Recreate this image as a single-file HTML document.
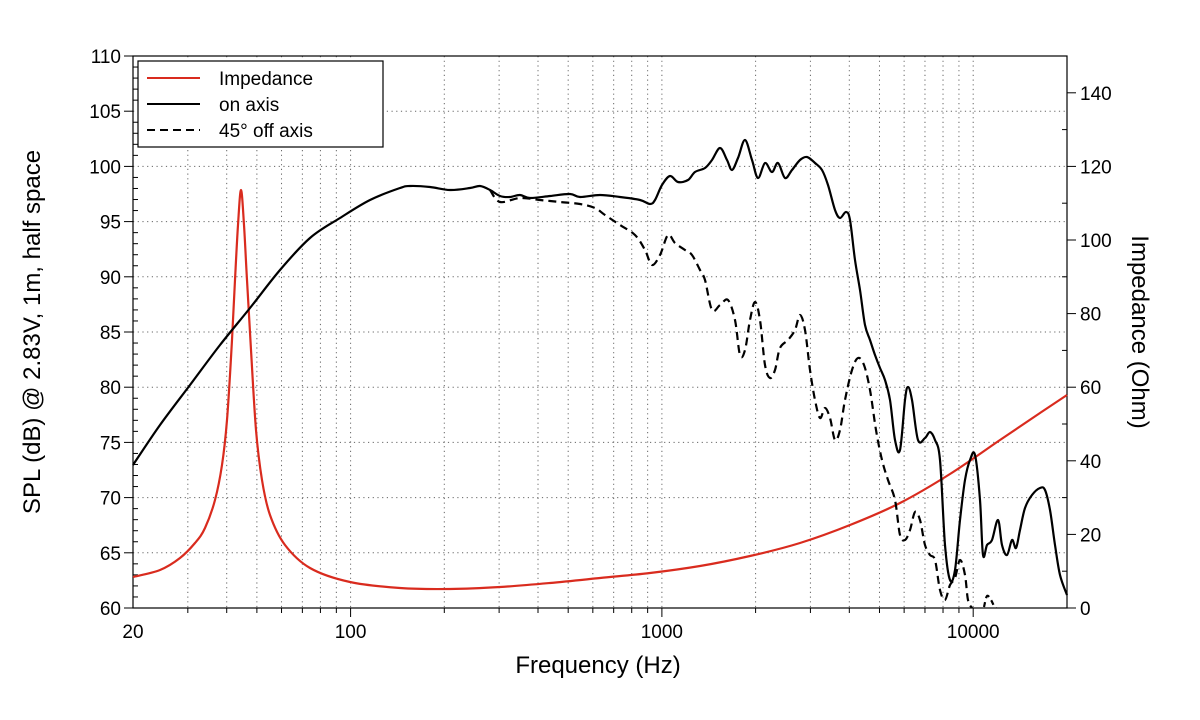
<!DOCTYPE html>
<html><head><meta charset="utf-8"><style>
body{margin:0;background:#fff;}
svg{display:block;font-family:"Liberation Sans",Arial,sans-serif;}
</style></head><body>
<svg id="s" width="1200" height="720" viewBox="0 0 1200 720" xmlns="http://www.w3.org/2000/svg">
<g id="grid"></g>
<rect x="133" y="56" width="934" height="552" fill="none" stroke="#000" stroke-width="1.2"/>
<g id="ticks"></g>
<g id="curves"></g>
<rect x="138" y="61" width="245" height="86" fill="#fff" stroke="#000" stroke-width="1.2"/>
<line x1="147" y1="78" x2="200" y2="78" stroke="#d92b1e" stroke-width="2"/>
<line x1="147" y1="104" x2="200" y2="104" stroke="#000" stroke-width="2"/>
<line x1="147" y1="130" x2="200" y2="130" stroke="#000" stroke-width="2" stroke-dasharray="8,5"/>
<g font-size="19" fill="#000">
<text x="219" y="85">Impedance</text>
<text x="219" y="111">on axis</text>
<text x="219" y="137">45° off axis</text>
</g>
<text x="598" y="673" font-size="24" text-anchor="middle">Frequency (Hz)</text>
<text transform="translate(40,332) rotate(-90)" font-size="24" text-anchor="middle">SPL (dB) @ 2.83V, 1m, half space</text>
<text transform="translate(1132,332) rotate(90)" font-size="24" text-anchor="middle">Impedance (Ohm)</text>
</svg>
<script>
var NS="http://www.w3.org/2000/svg";
function el(p,t,a,txt){var e=document.createElementNS(NS,t);for(var k in a)e.setAttribute(k,a[k]);if(txt!==undefined)e.textContent=txt;document.getElementById(p).appendChild(e);}
function X(f){return 133+311.3*Math.log10(f/20);}
function Y(d){return 608-(d-60)*552/50;}
var fs=[];for(var dec=10;dec<=10000;dec*=10)for(var m=1;m<10;m++){var f=m*dec;if(f>20&&f<20000)fs.push(f);}
fs.forEach(function(f){var x=X(f);var major=(f==100||f==1000||f==10000);
el("grid","line",{x1:x,y1:56,x2:x,y2:608,stroke:"#666","stroke-width":1,"stroke-dasharray":"1.2,3.5"});
el("ticks","line",{x1:x,y1:608,x2:x,y2:major?617:613,stroke:"#000","stroke-width":1});
if(major)el("ticks","text",{x:x,y:638,"font-size":19,"text-anchor":"middle"},String(f));});
el("ticks","text",{x:133,y:638,"font-size":19,"text-anchor":"middle"},"20");
for(var d=65;d<110;d+=5)el("grid","line",{x1:133,y1:Y(d),x2:1067,y2:Y(d),stroke:"#666","stroke-width":1,"stroke-dasharray":"1.2,3.5"});
for(var d=60;d<=110;d++){var y=Y(d);var maj=d%5==0;
el("ticks","line",{x1:maj?124:133,y1:y,x2:maj?133:138,y2:y,stroke:"#000","stroke-width":1});
if(maj)el("ticks","text",{x:121,y:y+7,"font-size":19,"text-anchor":"end"},String(d));}
for(var o=0;o<=150;o+=10){var y=608-o*552/150;var maj=o%20==0&&o<150;
el("ticks","line",{x1:maj?1067:1062,y1:y,x2:maj?1076:1067,y2:y,stroke:"#000","stroke-width":1});
if(maj)el("ticks","text",{x:1080,y:y+7,"font-size":19},String(o));}
function smooth(s){var a=s.trim().split(/\s+/).map(function(p){return p.split(",").map(Number);});
var d="M"+a[0][0]+","+a[0][1];
for(var i=0;i<a.length-1;i++){var p0=a[i-1]||a[i],p1=a[i],p2=a[i+1],p3=a[i+2]||p2;
var c1x=p1[0]+(p2[0]-p0[0])/6,c1y=p1[1]+(p2[1]-p0[1])/6,c2x=p2[0]-(p3[0]-p1[0])/6,c2y=p2[1]-(p3[1]-p1[1])/6;
d+=" C"+c1x.toFixed(1)+","+c1y.toFixed(1)+" "+c2x.toFixed(1)+","+c2y.toFixed(1)+" "+p2[0]+","+p2[1];}
return d;}
var imp="133,577 160,570 180,558 195,543 205,528 215,500 222,465 227,420 232,340 235,280 238,225 241,190 244,225 247,280 251,350 256,430 262,480 270,515 285,545 310,568 350,582 400,588 450,589 500,587 550,583 600,578 650,573 700,566 750,556 800,543 850,525 900,503 950,474 1000,440 1040,413 1067,395";
var on="133,465 160,425 190,385 220,345 250,308 280,270 310,238 340,218 370,200 400,188 410,186 430,187 450,190 470,188 480,186 490,190 500,196 510,197 520,195 530,198 550,196 570,194 580,197 600,195 620,197 640,200 650,204 655,200 662,185 670,176 678,182 688,180 695,172 705,168 712,160 720,148 727,160 732,170 738,158 745,140 752,160 758,178 765,163 772,172 778,163 785,178 792,170 800,160 807,157 815,163 822,170 828,185 835,210 840,218 846,212 850,220 855,260 860,290 865,325 870,340 875,355 880,368 885,380 890,400 895,440 900,450 905,400 908,387 912,400 918,440 925,438 930,432 935,440 940,460 945,545 950,580 955,570 960,520 965,480 970,460 975,455 980,500 983,555 987,545 992,540 998,520 1002,545 1007,555 1012,540 1016,548 1020,530 1025,508 1032,495 1040,488 1045,490 1050,510 1055,545 1060,575 1067,595";
var off="490,190 500,202 520,198 540,200 560,202 580,204 595,208 605,215 620,225 635,235 645,250 652,265 660,255 668,235 675,243 685,250 692,255 700,270 705,280 712,310 720,305 728,300 735,320 740,355 745,350 750,320 755,302 760,320 765,365 770,378 775,370 780,348 788,340 795,330 800,315 805,330 810,370 815,400 820,418 825,408 830,418 835,440 840,430 845,400 852,370 858,358 864,365 870,390 876,430 882,460 888,480 895,500 900,535 905,540 910,530 915,512 920,520 925,545 930,555 935,560 940,590 945,600 950,585 955,578 960,560 965,575 968,600 972,608";
el("curves","path",{d:smooth(imp),fill:"none",stroke:"#d92b1e","stroke-width":2.2});
el("curves","path",{d:smooth(on),fill:"none",stroke:"#000","stroke-width":2.2});
el("curves","path",{d:smooth(off),fill:"none",stroke:"#000","stroke-width":2.2,"stroke-dasharray":"8,5"});
el("curves","path",{d:smooth("984,607 987,596 991,600 994,606 996,608"),fill:"none",stroke:"#000","stroke-width":2.2,"stroke-dasharray":"5,4"});
</script>
</body></html>
